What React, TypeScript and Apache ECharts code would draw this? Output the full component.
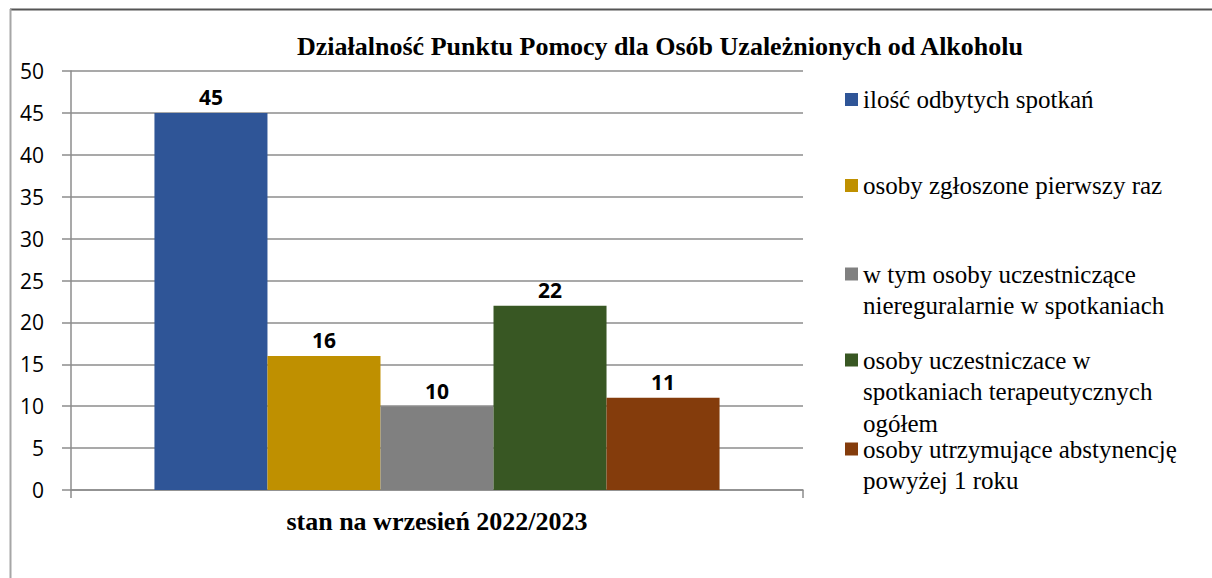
import React, { useEffect, useRef } from "react";
import * as echarts from "echarts";

const titleText = "Działalność Punktu Pomocy dla Osób Uzależnionych od Alkoholu";
const categories = ["stan na wrzesień 2022/2023"];
const seriesNames = [
  "ilość odbytych spotkań",
  "osoby zgłoszone pierwszy raz",
  "w tym osoby uczestniczące\nniereguralarnie w spotkaniach",
  "osoby uczestniczace w\nspotkaniach terapeutycznych\nogółem",
  "osoby utrzymujące abstynencję\npowyżej 1 roku",
];
const seriesValues = [45, 16, 10, 22, 11];
const seriesColors = ["#2f5597", "#bf9000", "#808080", "#385723", "#843c0c"];
const legendTops = [83.75, 169.75, 226.75, 281.25, 401.75];

const SERIF = "Liberation Serif";
const SANS = "Open Sans";
const LH = 31.5;

export default function App() {
  const ref = useRef<HTMLDivElement>(null);
  useEffect(() => {
    document.body.style.margin = "0";
    const chart = echarts.init(ref.current!, null, { renderer: "svg" });
    const legends = seriesNames.map((name, i) => {
      const n = name.split("\n").length;
      return {
        data: [name],
        orient: "vertical",
        left: 845,
        top: legendTops[i],
        padding: 0,
        icon: "rect",
        itemWidth: 13,
        itemHeight: 13,
        selectedMode: false,
        formatter: (nm: string) => "\n".repeat(n - 1) + nm,
        textStyle: {
          fontFamily: SERIF,
          fontSize: 25,
          color: "#000",
          lineHeight: LH,
        },
      };
    });
    chart.setOption({
      animation: false,
      backgroundColor: "#fff",
      title: {
        text: titleText,
        left: 660,
        textAlign: "center",
        top: 33,
        padding: 0,
        textStyle: { fontFamily: SERIF, fontSize: 26, fontWeight: "bold", color: "#000" },
      },
      legend: legends,
      grid: { left: 71, top: 71, right: 409, bottom: 88, containLabel: false },
      xAxis: {
        type: "category",
        data: categories,
        name: categories[0],
        nameLocation: "middle",
        nameGap: 18,
        nameTextStyle: { fontFamily: SERIF, fontSize: 26, fontWeight: "bold", color: "#000" },
        axisLabel: { show: false },
        axisLine: { show: true, lineStyle: { color: "#8c8c8c", width: 1.5 } },
        axisTick: { show: true, length: 8, lineStyle: { color: "#8c8c8c", width: 1.5 } },
      },
      yAxis: {
        type: "value",
        min: 0,
        max: 50,
        interval: 5,
        axisLine: { show: true, lineStyle: { color: "#8c8c8c", width: 1.5 } },
        axisTick: { show: true, length: 9, lineStyle: { color: "#8c8c8c", width: 1.5 } },
        axisLabel: { fontFamily: SANS, fontSize: 21, color: "#000", margin: 27 },
        splitLine: { show: true, lineStyle: { color: "#8c8c8c", width: 1.5 } },
      },
      series: seriesNames.map((name, i) => ({
        name,
        type: "bar",
        data: [seriesValues[i]],
        barGap: "0%",
        barCategoryGap: "22.8%",
        itemStyle: { color: seriesColors[i] },
        label: {
          show: true,
          position: "top",
          distance: 5,
          fontFamily: SANS,
          fontSize: 21,
          fontWeight: "bold",
          color: "#000",
        },
      })),
      graphic: [
        { type: "line", shape: { x1: 10, y1: 9.5, x2: 1212, y2: 9.5 }, style: { stroke: "#555", lineWidth: 2 } },
        { type: "line", shape: { x1: 10.5, y1: 9, x2: 10.5, y2: 578 }, style: { stroke: "#a6a6a6", lineWidth: 2 } },
      ],
    });
    return () => chart.dispose();
  }, []);
  return <div ref={ref} style={{ width: 1212, height: 578 }} />;
}
